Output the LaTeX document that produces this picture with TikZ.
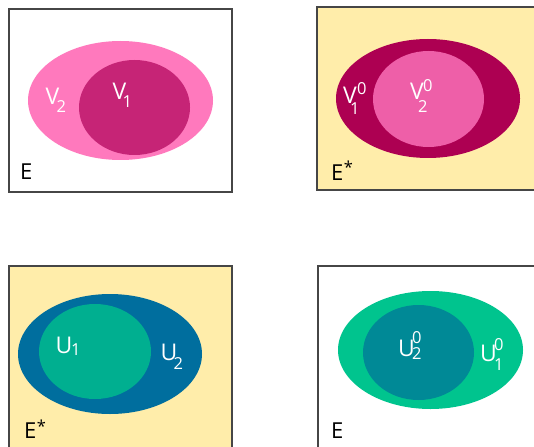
\documentclass[tikz,border=0pt]{standalone}
\usepackage{fontspec}
\setmainfont{Open Sans}
\definecolor{boxyellow}{RGB}{255,237,170}
\definecolor{pinkout}{RGB}{255,121,189}
\definecolor{pinkin}{RGB}{198,36,118}
\definecolor{magout}{RGB}{173,0,82}
\definecolor{magin}{RGB}{238,95,168}
\definecolor{blueout}{RGB}{0,110,158}
\definecolor{greenin}{RGB}{0,175,144}
\definecolor{greenout}{RGB}{0,196,142}
\definecolor{tealin}{RGB}{0,137,150}
\definecolor{framegray}{RGB}{70,70,70}
\newcommand{\subf}{\fontsize{16.5}{16.5}\selectfont}
\newcommand{\lab}[7]{\rlap{#1}\rlap{\kern#2pt\raisebox{-#3pt}{\subf #4}}\kern#5pt\raisebox{#6pt}{\subf #7}}
\newcommand{\estar}{E\kern0.5pt\raisebox{6pt}{\subf *}}
\tikzset{
  frame/.style={draw=framegray,line width=1.2pt},
  setlabel/.style={text=white,font=\fontsize{23}{23}\selectfont,inner sep=0pt,anchor=base west},
  elabel/.style={text=black,font=\fontsize{22}{22}\selectfont,inner sep=0pt,anchor=base west}
}
\begin{document}
\begin{tikzpicture}[x=1pt,y=-1pt]
\useasboundingbox (0,0) rectangle (534,446);
\clip (0,0) rectangle (534,446);
% Box 1
\path[frame,fill=white] (9,9) rectangle (232,192);
\fill[pinkout] (120.5,100.5) ellipse [x radius=92.5pt,y radius=59.5pt];
\fill[pinkin] (134.5,107.5) ellipse [x radius=55.5pt,y radius=47.5pt];
\node[setlabel] (v2a) at (45,105) {\lab{V}{11}{8}{2}{0}{0}{}};
\node[setlabel] (v1a) at (112,100) {\lab{V}{10}{8}{1}{0}{0}{}};
\node[elabel] (ea) at (20,179) {E};
% Box 2
\path[frame,fill=boxyellow] (317,7) rectangle (560,190);
\fill[magout] (428,98.5) ellipse [x radius=92pt,y radius=59.5pt];
\fill[magin] (428.5,99) ellipse [x radius=55.5pt,y radius=48pt];
\node[setlabel] (v1b) at (343,104) {\lab{V}{7}{11}{1}{14}{9}{0}};
\node[setlabel] (v2b) at (410,100) {\lab{V}{8}{13}{2}{13}{8}{0}};
\node[elabel] (eb) at (331,180) {\estar};
% Box 3
\path[frame,fill=boxyellow] (9,266) rectangle (232,470);
\fill[blueout] (110,354) ellipse [x radius=92pt,y radius=60pt];
\fill[greenin] (95,351.5) ellipse [x radius=56pt,y radius=47.5pt];
\node[setlabel] (u1c) at (55,353) {\lab{U}{15.5}{2}{1}{0}{0}{}};
\node[setlabel] (u2c) at (160,360) {\lab{U}{13}{9}{2}{0}{0}{}};
\node[elabel] (ec) at (24,438) {\estar};
% Box 4
\path[frame,fill=white] (318,266) rectangle (560,470);
\fill[greenout] (430.5,350) ellipse [x radius=92.5pt,y radius=59pt];
\fill[tealin] (418.5,352.5) ellipse [x radius=55.5pt,y radius=47.5pt];
\node[setlabel] (u2d) at (398,356) {\lab{U}{14}{3}{2}{14}{13}{0}};
\node[setlabel] (u1d) at (480,361) {\lab{U}{14}{9}{1}{14}{11}{0}};
\node[elabel] (ed) at (331,438) {E};
\end{tikzpicture}
\end{document}
